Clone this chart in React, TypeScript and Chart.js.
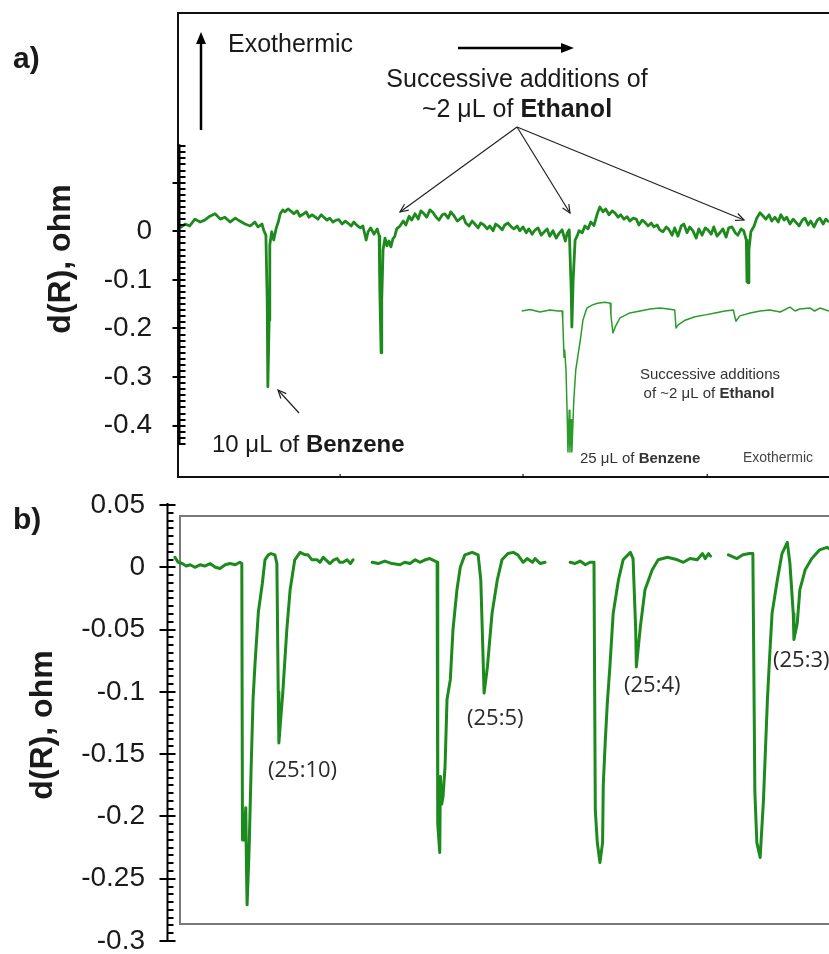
import React, { useEffect, useRef } from 'react';
import { Chart, registerables } from 'chart.js';

Chart.register(...registerables);

// ---------------- Panel a data (time in arbitrary units 0..100, d(R) in ohm) ----------------
const aTime = [
  0.3, 1.1, 1.8, 2.6, 3.4, 4.1, 4.9, 5.7, 6.5, 7.2,
  8.0, 8.8, 9.5, 10.3, 11.1, 11.8, 12.3, 12.9, 13.2, 13.5,
  13.7, 13.8, 14.0, 14.1, 14.4, 14.7, 15.1, 15.4, 15.7, 16.1,
  16.4, 16.9, 17.4, 17.8, 18.3, 18.7, 19.2, 19.7, 20.1, 20.6,
  21.0, 21.5, 22.0, 22.4, 22.9, 23.3, 23.8, 24.3, 24.7, 25.2,
  25.7, 26.1, 26.6, 27.0, 27.5, 28.0, 28.4, 28.9, 29.2, 29.6,
  30.1, 30.6, 30.9, 31.0, 31.2, 31.3, 31.5, 31.8, 32.1, 32.4,
  32.7, 33.0, 33.3, 33.6, 34.1, 34.6, 35.0, 35.5, 35.9, 36.4,
  36.9, 37.3, 37.8, 38.2, 38.7, 39.2, 39.6, 40.1, 40.6, 41.0,
  41.5, 41.9, 42.4, 42.9, 43.3, 43.8, 44.2, 44.7, 45.2, 45.6,
  46.1, 46.5, 47.0, 47.5, 47.9, 48.4, 48.8, 49.3, 49.8, 50.2,
  50.7, 51.2, 51.6, 52.1, 52.5, 53.0, 53.5, 53.9, 54.4, 54.8,
  55.3, 55.8, 56.2, 56.7, 57.1, 57.6, 58.1, 58.5, 59.0, 59.5,
  59.8, 60.1, 60.4, 60.5, 60.7, 61.0, 61.3, 61.6,
  62.1, 62.5, 63.0, 63.4, 63.9, 64.4, 64.8, 65.3, 65.7, 66.2,
  66.7, 67.1, 67.6, 68.0, 68.5, 69.0, 69.4, 69.9, 70.4, 70.8,
  71.3, 71.7, 72.2, 72.7, 73.1, 73.6, 74.0, 74.5, 75.0, 75.4,
  75.9, 76.3, 76.8, 77.3, 77.7, 78.2, 78.6, 79.1, 79.6, 80.0,
  80.5, 81.0, 81.4, 81.9, 82.3, 82.8, 83.3, 83.7, 84.2, 84.6,
  85.1, 85.6, 86.0, 86.5, 86.9,
  87.3, 87.4, 87.6, 87.7, 88.0,
  88.5, 88.9, 89.4, 89.9, 90.3, 90.8, 91.2, 91.7, 92.2, 92.6,
  93.1, 93.5, 94.0, 94.5, 94.9, 95.4, 95.9, 96.3, 96.8, 97.2,
  97.7, 98.2, 98.6, 99.1, 99.5, 100.0,
];
const aSignal = [
  0.007, 0.015, 0.011, 0.025, 0.019, 0.023, 0.031, 0.036, 0.025, 0.029,
  0.019, 0.027, 0.021, 0.015, 0.011, 0.019, 0.009, 0.015, 0.001, -0.008,
  -0.141, -0.320, -0.183, -0.028, -0.001, -0.018, 0.007, 0.019, 0.036, 0.044,
  0.040, 0.046, 0.041, 0.036, 0.042, 0.031, 0.035, 0.040, 0.029, 0.034,
  0.030, 0.025, 0.034, 0.029, 0.023, 0.027, 0.019, 0.023, 0.024, 0.015,
  0.021, 0.017, 0.011, 0.019, 0.012, 0.007, 0.011, -0.018, -0.001, 0.007,
  -0.006, 0.005, -0.010, -0.121, -0.250, -0.141, -0.038, -0.014, -0.030, -0.020,
  -0.032, -0.016, -0.010, 0.005, 0.011, 0.021, 0.013, 0.031, 0.023, 0.036,
  0.025, 0.042, 0.036, 0.029, 0.044, 0.038, 0.030, 0.023, 0.034, 0.036,
  0.027, 0.040, 0.032, 0.021, 0.025, 0.031, 0.017, 0.011, 0.021, 0.015,
  0.007, 0.017, 0.013, 0.005, 0.011, 0.001, 0.015, 0.010, 0.003, 0.013,
  0.017, 0.009, 0.005, 0.011, 0.001, 0.009, -0.003, 0.005, -0.006, 0.002,
  0.007, -0.008, -0.002, 0.005, -0.010, 0.001, -0.014, -0.005, 0.003, -0.020,
  -0.003, 0.003, -0.121, -0.197, -0.100, -0.018, -0.010, 0.001,
  -0.003, 0.011, 0.005, 0.019, 0.012, 0.036, 0.050, 0.040, 0.046, 0.034,
  0.042, 0.038, 0.029, 0.034, 0.025, 0.030, 0.021, 0.027, 0.025, 0.013,
  0.023, 0.019, 0.011, 0.017, 0.009, 0.013, 0.003, -0.001, 0.009, 0.004,
  -0.008, 0.007, -0.010, 0.011, 0.015, -0.003, 0.009, 0.001, -0.014, 0.005,
  -0.008, 0.007, 0.003, -0.006, 0.009, -0.010, -0.002, 0.005, -0.012, 0.007,
  0.009, -0.003, -0.008, 0.005, 0.001,
  -0.018, -0.104, -0.106, -0.038, -0.001,
  0.011, 0.027, 0.038, 0.031, 0.025, 0.034, 0.021, 0.029, 0.019, 0.034,
  0.023, 0.029, 0.015, 0.025, 0.019, 0.011, 0.023, 0.027, 0.013, 0.021,
  0.009, 0.023, 0.027, 0.015, 0.025, 0.019,
];

// inset trace (25 uL benzene + ethanol additions)
const aInsetTime = [
  52.8, 54.1, 55.6, 57.1, 58.4, 59.0, 59.1, 59.3, 59.4, 59.6,
  59.8, 59.9, 60.1, 60.2, 60.4, 60.5, 60.8, 61.1, 61.8, 62.2,
  62.8, 63.6, 64.4, 65.6, 66.4, 66.5, 66.8, 67.3, 67.9, 69.4,
  71.0, 72.5, 74.0, 75.3, 76.3, 76.5, 76.8, 77.9, 79.4, 81.0,
  82.5, 84.0, 85.3, 85.7, 86.3, 87.9, 89.4, 90.9, 92.5, 94.0,
  94.8, 95.5, 97.1, 97.8, 98.6, 100.0,
];
const aInsetSignal = [
  -0.164, -0.161, -0.166, -0.162, -0.164, -0.164, -0.183, -0.259, -0.245, -0.285,
  -0.388, -0.454, -0.368, -0.454, -0.388, -0.454, -0.347, -0.285, -0.224, -0.183,
  -0.158, -0.152, -0.148, -0.146, -0.148, -0.172, -0.209, -0.193, -0.178, -0.168,
  -0.164, -0.160, -0.158, -0.160, -0.162, -0.199, -0.193, -0.183, -0.176, -0.172,
  -0.168, -0.164, -0.162, -0.185, -0.174, -0.168, -0.164, -0.162, -0.166, -0.156,
  -0.164, -0.160, -0.158, -0.164, -0.158, -0.164,
];

const aTickValues = [0, -0.1, -0.2, -0.3, -0.4];
const aTickLabels = ['0', '-0.1', '-0.2', '-0.3', '-0.4'];
const aXTicks = [24.9, 53.0, 81.3];

// ---------------- Panel b data ----------------
const bTime = [
  1.2, 1.7, 2.3, 2.9, 3.5, 4.2, 5.0, 5.7, 6.5, 7.3,
  8.0, 8.8, 9.5, 10.3, 11.0, 11.3, 11.4, 11.6, 11.9, 12.0,
  12.1, 12.4, 12.7, 13.0, 13.3, 13.8, 14.4, 14.8, 15.3, 15.7,
  16.3, 16.6, 16.8, 16.9, 17.2, 17.5, 18.1, 18.6, 19.3, 20.1,
  20.9, 21.3, 21.9, 22.7, 23.1, 23.6, 24.2, 24.6, 25.2, 25.7,
  26.1, 26.6, 27.2, 27.7, 28.1,
  29.5,
  31.0, 31.9, 32.9, 34.0, 35.2, 35.9, 36.7, 37.5, 38.2, 39.0,
  39.7, 40.5, 40.8, 40.9, 41.2, 41.3, 41.5, 41.7, 42.0, 42.3,
  42.8, 43.2, 43.8, 44.3, 45.0, 46.1, 47.0, 47.4, 47.7, 47.9,
  48.4, 49.1, 49.9, 50.6, 51.5, 52.3, 53.0, 53.8, 54.4, 55.2,
  55.6, 56.4, 57.1,
  59.0,
  60.9, 61.6, 62.4, 63.2, 63.9, 64.5, 64.7, 65.0, 65.4, 65.8,
  65.9, 66.2, 66.5, 66.9, 67.4, 68.2, 68.9, 70.0, 70.4, 70.8,
  70.9, 71.5, 72.2, 73.3, 74.2, 75.6, 77.1, 78.0, 79.0, 80.1,
  80.9, 81.3, 81.8, 82.1,
  83.5,
  84.8, 86.1, 87.0, 88.0, 88.5, 88.8, 89.1, 89.6, 90.1, 90.7,
  91.0, 91.4, 92.2, 92.9, 93.7, 94.1, 94.6, 94.7, 95.2, 95.6,
  96.4, 97.4, 98.6, 99.7, 100.0,
];
const bSignal = [
  0.008, 0.004, 0.003, 0.001, 0.002, 0.000, 0.002, 0.001, 0.003, 0.000,
  -0.001, 0.002, 0.003, 0.002, 0.004, 0.003, -0.219, -0.219, -0.193, -0.240,
  -0.271, -0.227, -0.163, -0.106, -0.077, -0.036, -0.013, 0.006, 0.010, 0.011,
  0.010, 0.003, -0.100, -0.141, -0.120, -0.100, -0.050, -0.018, 0.006, 0.012,
  0.010, 0.010, 0.006, 0.006, 0.004, 0.008, 0.005, 0.003, 0.006, 0.007,
  0.004, 0.004, 0.006, 0.003, 0.006,
  null,
  0.004, 0.003, 0.005, 0.003, 0.002, 0.004, 0.003, 0.006, 0.004, 0.006,
  0.007, 0.005, 0.004, -0.206, -0.229, -0.168, -0.190, -0.184, -0.160, -0.106,
  -0.090, -0.050, -0.018, 0.000, 0.010, 0.012, 0.010, -0.010, -0.064, -0.101,
  -0.080, -0.037, -0.010, 0.006, 0.011, 0.012, 0.010, 0.004, 0.007, 0.004,
  0.007, 0.003, 0.004,
  null,
  0.004, 0.003, 0.005, 0.002, 0.004, 0.004, -0.195, -0.221, -0.237, -0.221,
  -0.175, -0.140, -0.110, -0.080, -0.037, -0.010, 0.006, 0.012, 0.007, -0.050,
  -0.080, -0.048, -0.018, -0.002, 0.006, 0.008, 0.006, 0.004, 0.007, 0.006,
  0.011, 0.007, 0.011, 0.009,
  null,
  0.010, 0.007, 0.010, 0.011, 0.011, -0.180, -0.221, -0.233, -0.187, -0.106,
  -0.075, -0.037, -0.010, 0.011, 0.020, 0.003, -0.037, -0.058, -0.045, -0.018,
  -0.002, 0.007, 0.014, 0.016, 0.015,
];

const bTickValues = [0.05, 0, -0.05, -0.1, -0.15, -0.2, -0.25, -0.3];
const bTickLabels = ['0.05', '0', '-0.05', '-0.1', '-0.15', '-0.2', '-0.25', '-0.3'];
const bPeakLabels = ['(25:10)', '(25:5)', '(25:4)', '(25:3)'];

// ---------------- styling ----------------
const GREEN = '#1d8a1d';
const GREEN_INSET = '#2b9b2b';
const SANS = "'Liberation Sans', Arial, sans-serif";
const CALI = "'Open Sans', 'Noto Sans', sans-serif";
const INK = '#1a1a1a';

type Run = { t: string; b?: boolean };

function drawRuns(ctx: CanvasRenderingContext2D, runs: Run[], x: number, y: number, size: number,
  family: string, align: 'left' | 'center', color: string) {
  ctx.save();
  ctx.fillStyle = color;
  ctx.textBaseline = 'alphabetic';
  ctx.textAlign = 'left';
  const fonts = runs.map(r => `${r.b ? 'bold ' : ''}${size}px ${family}`);
  const widths = runs.map((r, i) => { ctx.font = fonts[i]; return ctx.measureText(r.t).width; });
  const total = widths.reduce((a, b) => a + b, 0);
  let cx = align === 'center' ? x - total / 2 : x;
  runs.forEach((r, i) => { ctx.font = fonts[i]; ctx.fillText(r.t, cx, y); cx += widths[i]; });
  ctx.restore();
}

function seg(ctx: CanvasRenderingContext2D, x1: number, y1: number, x2: number, y2: number) {
  ctx.beginPath(); ctx.moveTo(x1, y1); ctx.lineTo(x2, y2); ctx.stroke();
}

function openArrow(ctx: CanvasRenderingContext2D, x1: number, y1: number, x2: number, y2: number, len: number) {
  seg(ctx, x1, y1, x2, y2);
  const a = Math.atan2(y2 - y1, x2 - x1);
  const ang = 0.42;
  ctx.beginPath();
  ctx.moveTo(x2 - len * Math.cos(a - ang), y2 - len * Math.sin(a - ang));
  ctx.lineTo(x2, y2);
  ctx.lineTo(x2 - len * Math.cos(a + ang), y2 - len * Math.sin(a + ang));
  ctx.stroke();
}

function filledHead(ctx: CanvasRenderingContext2D, tx: number, ty: number, dirx: number, diry: number, len: number, half: number) {
  const bx = tx - dirx * len, by = ty - diry * len;
  const px = -diry, py = dirx;
  ctx.beginPath();
  ctx.moveTo(tx, ty);
  ctx.lineTo(bx + px * half, by + py * half);
  ctx.lineTo(bx - px * half, by - py * half);
  ctx.closePath();
  ctx.fill();
}

function labelFor(v: number, vals: number[], labels: string[]) {
  for (let i = 0; i < vals.length; i++) if (Math.abs(v - vals[i]) < 1e-6) return labels[i];
  return '';
}

function rotatedTitle(ctx: CanvasRenderingContext2D, text: string, cx: number, cy: number, size: number) {
  ctx.save();
  ctx.translate(cx, cy);
  ctx.rotate(-Math.PI / 2);
  ctx.font = `bold ${size}px ${SANS}`;
  ctx.fillStyle = INK;
  ctx.textAlign = 'center';
  ctx.textBaseline = 'middle';
  ctx.fillText(text, 0, 0);
  ctx.restore();
}

function drawYAxis(chart: any, ax: number, majorEvery: number, majL: number, majR: number, minL: number, minR: number) {
  const { ctx } = chart;
  const y = chart.scales.y;
  const vals: number[] = y.ticks.map((t: any) => t.value);
  const vmax = Math.max(...vals), vmin = Math.min(...vals);
  ctx.save();
  ctx.strokeStyle = '#000';
  ctx.lineWidth = 2;
  seg(ctx, ax, y.getPixelForValue(vmax) - 2, ax, y.getPixelForValue(vmin) + 1);
  vals.forEach(v => {
    const p = Math.round(y.getPixelForValue(v));
    const r = v / majorEvery;
    const major = Math.abs(r - Math.round(r)) < 1e-6;
    if (major) seg(ctx, ax - majL, p, ax + majR, p);
    else seg(ctx, ax - minL, p, ax + minR, p);
  });
  ctx.restore();
}

const panelAPlugin = {
  id: 'panelA',
  afterDraw(chart: any) {
    const { ctx, chartArea: ca } = chart;
    const x = chart.scales.x;
    ctx.save();
    // frame
    ctx.strokeStyle = '#111';
    ctx.lineWidth = 2;
    ctx.beginPath();
    ctx.moveTo(ca.right + 10, ca.top);
    ctx.lineTo(ca.left, ca.top);
    ctx.lineTo(ca.left, ca.bottom);
    ctx.lineTo(ca.right + 10, ca.bottom);
    ctx.stroke();
    ctx.lineWidth = 1.2;
    aXTicks.forEach(v => { const px = x.getPixelForValue(v); seg(ctx, px, ca.bottom, px, ca.bottom - 3); });
    ctx.restore();

    drawYAxis(chart, ca.left + 1.5, 0.1, 7, 6, 0, 6);

    ctx.save();
    ctx.strokeStyle = '#000';
    ctx.fillStyle = '#000';
    // vertical "Exothermic" arrow
    ctx.lineWidth = 2.5;
    seg(ctx, 201, 130, 201, 42);
    filledHead(ctx, 201, 32, 0, -1, 12, 5);
    // horizontal arrow
    seg(ctx, 458, 48, 563, 48);
    filledHead(ctx, 574, 48, 1, 0, 13, 5);
    // ethanol pointers
    ctx.lineWidth = 1.2;
    ctx.strokeStyle = '#222';
    openArrow(ctx, 517, 127, 400, 212, 9);
    openArrow(ctx, 517, 127, 570, 213, 9);
    openArrow(ctx, 517, 127, 744, 220, 9);
    // benzene pointer
    openArrow(ctx, 299, 413, 278, 390, 9);
    ctx.restore();

    drawRuns(ctx, [{ t: 'a)', b: true }], 13, 68, 30, SANS, 'left', INK);
    drawRuns(ctx, [{ t: 'Exothermic' }], 228, 52, 25, SANS, 'left', INK);
    drawRuns(ctx, [{ t: 'Successive additions of' }], 517, 87, 25, SANS, 'center', INK);
    drawRuns(ctx, [{ t: '~2 μL of ' }, { t: 'Ethanol', b: true }], 517, 117, 25, SANS, 'center', INK);
    drawRuns(ctx, [{ t: '10 μL of ' }, { t: 'Benzene', b: true }], 212, 452, 24, SANS, 'left', INK);
    drawRuns(ctx, [{ t: 'Successive additions' }], 710, 379, 15, SANS, 'center', '#333');
    drawRuns(ctx, [{ t: 'of ~2 μL of ' }, { t: 'Ethanol', b: true }], 709, 398, 15, SANS, 'center', '#333');
    drawRuns(ctx, [{ t: '25 μL of ' }, { t: 'Benzene', b: true }], 580, 463, 15, SANS, 'left', '#333');
    drawRuns(ctx, [{ t: 'Exothermic' }], 743, 462, 14, SANS, 'left', '#444');
    rotatedTitle(ctx, 'd(R), ohm', 61, 259, 32);
  },
};

const panelBPlugin = {
  id: 'panelB',
  beforeDatasetsDraw(chart: any) {
    const { ctx, chartArea: ca } = chart;
    ctx.save();
    ctx.strokeStyle = '#7a7a7a';
    ctx.lineWidth = 2;
    ctx.beginPath();
    ctx.moveTo(ca.right + 10, ca.top + 11);
    ctx.lineTo(ca.left + 13, ca.top + 11);
    ctx.lineTo(ca.left + 13, ca.bottom - 17);
    ctx.lineTo(ca.right + 10, ca.bottom - 17);
    ctx.stroke();
    ctx.restore();
  },
  afterDraw(chart: any) {
    const { ctx, chartArea: ca } = chart;
    drawYAxis(chart, ca.left + 0.5, 0.05, 8, 8, 0, 6);
    const pos = [[268, 297], [467, 245], [624, 212], [773, 187]];
    bPeakLabels.forEach((s, i) => drawRuns(ctx, [{ t: s }], pos[i][0], pos[i][1], 22, CALI, 'left', '#2a2a2a'));
    drawRuns(ctx, [{ t: 'b)', b: true }], 13, 49, 30, SANS, 'left', INK);
    rotatedTitle(ctx, 'd(R), ohm', 43, 245, 32);
  },
};

function makeConfigA(): any {
  return {
    type: 'line',
    data: {
      datasets: [
        {
          data: aTime.map((t, i) => ({ x: t, y: aSignal[i] })),
          borderColor: GREEN, borderWidth: 2.8, pointRadius: 0, tension: 0, borderJoinStyle: 'round',
        },
        {
          data: aInsetTime.map((t, i) => ({ x: t, y: aInsetSignal[i] })),
          borderColor: GREEN_INSET, borderWidth: 1.5, pointRadius: 0, tension: 0, borderJoinStyle: 'round',
        },
      ],
    },
    options: {
      responsive: false, animation: false, devicePixelRatio: 1, events: [],
      layout: { padding: { top: 13, bottom: 3, left: 0, right: 0 } },
      plugins: { legend: { display: false }, tooltip: { enabled: false } },
      scales: {
        x: {
          type: 'linear', min: 0, max: 100, display: false,
          afterFit: (s: any) => { s.paddingLeft = 0; s.paddingRight = 0; s.height = 0; },
        },
        y: {
          type: 'linear', min: -0.5056, max: 0.4492,
          grid: { display: false, drawTicks: false }, border: { display: false },
          afterBuildTicks: (s: any) => {
            const t: any[] = [];
            for (let i = -35; i <= 14; i++) t.push({ value: i * 0.0125 });
            s.ticks = t;
          },
          ticks: {
            autoSkip: false, padding: 26, color: INK,
            font: { family: SANS, size: 28 },
            callback: (v: number) => labelFor(v, aTickValues, aTickLabels),
          },
          afterFit: (s: any) => { s.width = 178; s.paddingTop = 0; s.paddingBottom = 0; },
        },
      },
    },
    plugins: [panelAPlugin],
  };
}

function makeConfigB(): any {
  return {
    type: 'line',
    data: {
      datasets: [
        {
          data: bTime.map((t, i) => ({ x: t, y: bSignal[i] })),
          borderColor: GREEN, borderWidth: 3, pointRadius: 0, tension: 0, spanGaps: false,
          borderJoinStyle: 'round', borderCapStyle: 'round',
        },
      ],
    },
    options: {
      responsive: false, animation: false, devicePixelRatio: 1, events: [],
      layout: { padding: { top: 25, bottom: 13, left: 0, right: 0 } },
      plugins: { legend: { display: false }, tooltip: { enabled: false } },
      scales: {
        x: {
          type: 'linear', min: 0, max: 100, display: false,
          afterFit: (s: any) => { s.paddingLeft = 0; s.paddingRight = 0; s.height = 0; },
        },
        y: {
          type: 'linear', min: -0.3, max: 0.05,
          grid: { display: false, drawTicks: false }, border: { display: false },
          afterBuildTicks: (s: any) => {
            const t: any[] = [];
            for (let i = -48; i <= 8; i++) t.push({ value: i * 0.00625 });
            s.ticks = t;
          },
          ticks: {
            autoSkip: false, padding: 22, color: INK,
            font: { family: SANS, size: 28 },
            callback: (v: number) => labelFor(v, bTickValues, bTickLabels),
          },
          afterFit: (s: any) => { s.width = 167; s.paddingTop = 0; s.paddingBottom = 0; },
        },
      },
    },
    plugins: [panelBPlugin],
  };
}

export default function App() {
  const refA = useRef<HTMLCanvasElement>(null);
  const refB = useRef<HTMLCanvasElement>(null);
  useEffect(() => {
    const a = new Chart(refA.current as HTMLCanvasElement, makeConfigA());
    const b = new Chart(refB.current as HTMLCanvasElement, makeConfigB());
    return () => { a.destroy(); b.destroy(); };
  }, []);
  return (
    <div style={{ position: 'absolute', left: 0, top: 0, width: 829, height: 954, background: '#fff', overflow: 'hidden' }}>
      <canvas ref={refA} width={829} height={480} style={{ position: 'absolute', left: 0, top: 0, width: 829, height: 480 }} />
      <canvas ref={refB} width={829} height={474} style={{ position: 'absolute', left: 0, top: 480, width: 829, height: 474 }} />
    </div>
  );
}
